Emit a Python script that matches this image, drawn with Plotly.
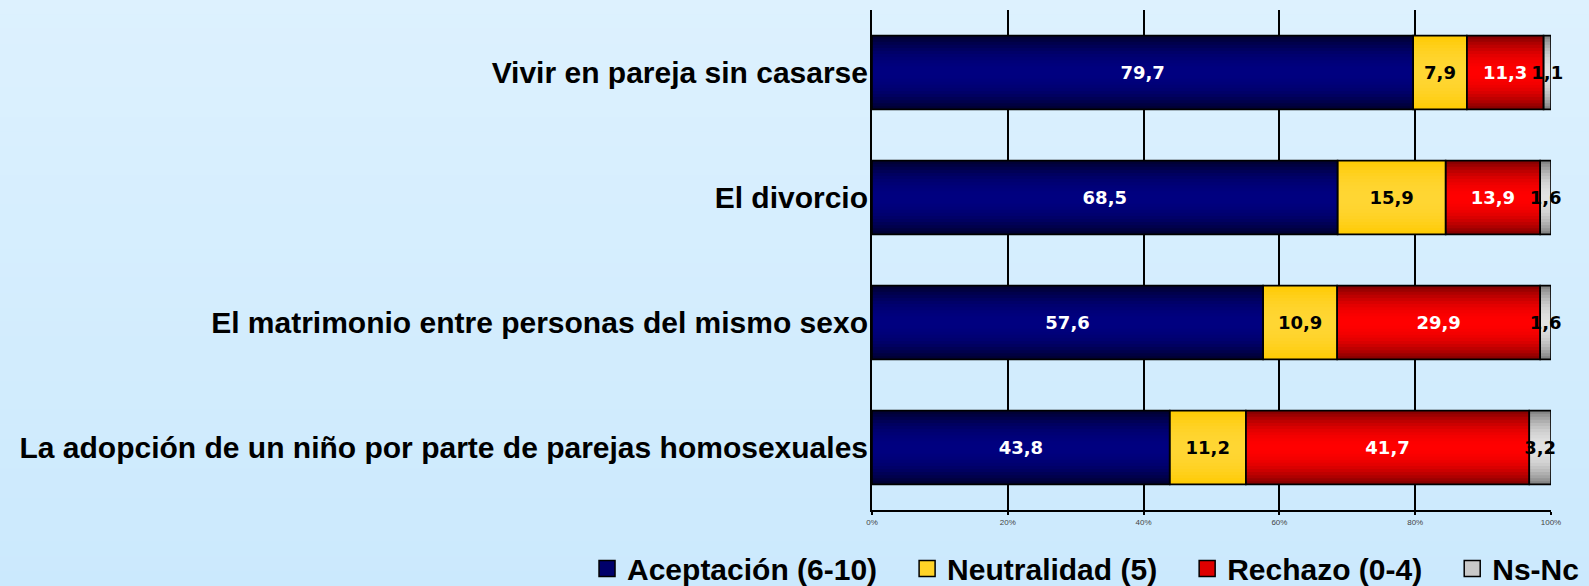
import plotly.graph_objects as go
import numpy as np

# ---------------- data ----------------
categories = [
    "Vivir en pareja sin casarse",
    "El divorcio",
    "El matrimonio entre personas del mismo sexo",
    "La adopción de un niño por parte de parejas homosexuales",
]
series_names = ["Aceptación (6-10)", "Neutralidad (5)", "Rechazo (0-4)", "Ns-Nc"]
aceptacion = [79.7, 68.5, 57.6, 43.8]
neutralidad = [7.9, 15.9, 10.9, 11.2]
rechazo = [11.3, 13.9, 29.9, 41.7]
nsnc = [1.1, 1.6, 1.6, 3.2]
tick_vals = [0, 20, 40, 60, 80, 100]
tick_text = ["0%", "20%", "40%", "60%", "80%", "100%"]

# ---------------- styles ----------------
center_cols = [(0, 0, 128), (255, 214, 51), (255, 0, 0), (226, 226, 226)]
edge_cols = [(0, 0, 45), (255, 202, 0), (125, 0, 0), (125, 125, 125)]
text_cols = ["white", "black", "white", "black"]

W = 0.59
N = 12

values = np.array([aceptacion, neutralidad, rechazo, nsnc], dtype=float)
shares = values / values.sum(axis=0) * 100.0
bases = np.vstack([np.zeros(values.shape[1]), np.cumsum(shares, axis=0)[:-1]])

def mix(c0, c1, t):
    return "rgb(%d,%d,%d)" % tuple(round(a + (b - a) * t) for a, b in zip(c0, c1))

def fmt(v):
    return f"{v:.1f}".replace(".", ",")

fig = go.Figure()

# gradient layers
for s in range(4):
    for k in range(N):
        d = (N - k - 0.5) / N
        col = mix(center_cols[s], edge_cols[s], d ** 2)
        fig.add_trace(go.Bar(
            y=categories, x=shares[s], base=bases[s], orientation="h",
            width=W * (1 - k / N),
            marker=dict(color=col, line=dict(width=0)),
            showlegend=False, hoverinfo="skip",
        ))

# borders + labels
for s in range(4):
    fig.add_trace(go.Bar(
        y=categories, x=shares[s], base=bases[s], orientation="h",
        width=W,
        marker=dict(color="rgba(0,0,0,0)", line=dict(width=1.6, color="black")),
        text=[fmt(v) for v in values[s]],
        textposition="inside", insidetextanchor="middle",
        constraintext="none", textangle=0, cliponaxis=False,
        textfont=dict(family="DejaVu Sans", size=18, color=text_cols[s], weight="bold"),
        showlegend=False, hoverinfo="skip",
    ))

# legend entries
pad = "\u00a0\u00a0\u00a0"
for s in range(4):
    fig.add_trace(go.Scatter(
        y=[None], x=[None], mode="markers",
        name=series_names[s] + (pad if s < 3 else ""),
        marker=dict(symbol="square", size=16,
                    color=mix(center_cols[s], edge_cols[s], 0.25),
                    line=dict(width=1.5, color="black")),
        showlegend=True, hoverinfo="skip",
    ))

# background gradient bands
shapes = []
nb = 40
ytop, ybot = 1 + 10 / 500, -76 / 500
top_c, bot_c = (221, 241, 254), (203, 233, 253)
for i in range(nb):
    y0 = ytop + (ybot - ytop) * i / nb
    y1 = ytop + (ybot - ytop) * (i + 1) / nb
    shapes.append(dict(type="rect", xref="paper", yref="paper", x0=-2, x1=2,
                       y0=y1, y1=y0 + 0.001, layer="below", line=dict(width=0),
                       fillcolor=mix(top_c, bot_c, (i + 0.5) / nb)))

fig.update_layout(
    width=1589, height=586,
    margin=dict(l=872, r=38, t=10, b=76, autoexpand=False),
    barmode="overlay",
    paper_bgcolor="rgb(213,237,254)",
    plot_bgcolor="rgba(0,0,0,0)",
    shapes=shapes,
    showlegend=True,
    legend=dict(orientation="h", x=-0.4197, xanchor="left", y=-0.117, yanchor="middle",
                font=dict(family="Liberation Sans", size=30, color="black", weight="bold"),
                bgcolor="rgba(0,0,0,0)", traceorder="normal"),
    xaxis=dict(range=[0, 100], tickvals=tick_vals, ticktext=tick_text,
               tickfont=dict(family="Liberation Sans", size=8, color="#444"),
               showgrid=True, gridcolor="black", gridwidth=2,
               showline=True, linecolor="black", linewidth=2,
               ticks="outside", ticklen=3, tickcolor="black", tickwidth=2,
               zeroline=False, fixedrange=True),
    yaxis=dict(type="category", categoryarray=categories, range=[3.5, -0.5],
               tickfont=dict(family="Liberation Sans", size=30, color="black", weight="bold"),
               ticklabelstandoff=-4,
               showgrid=False, showline=True, linecolor="black", linewidth=2,
               ticks="", zeroline=False, fixedrange=True),
)

fig.write_html("out.html",
               config={"displayModeBar": False, "staticPlot": False},
               post_script="document.body.style.margin='0';document.body.style.overflow='hidden';")
